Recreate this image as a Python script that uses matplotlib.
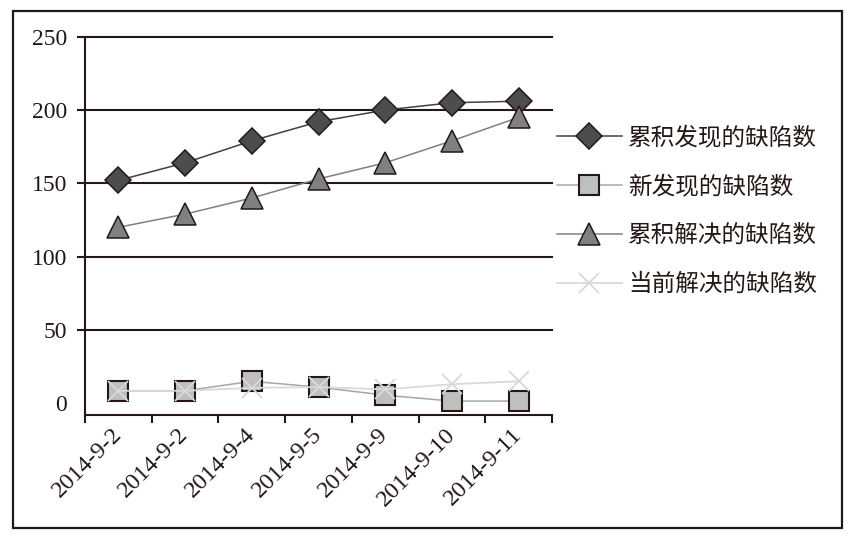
import matplotlib
matplotlib.use("Agg")
import matplotlib.pyplot as plt
import numpy as np
from matplotlib.patches import Rectangle

dates = ["2014-9-2", "2014-9-2", "2014-9-4", "2014-9-5", "2014-9-9", "2014-9-10", "2014-9-11"]
cum_found = [152, 164, 179, 192, 200, 205, 206]
new_found = [8.5, 8.5, 15, 11, 5.5, 1.5, 1.5]
cum_resolved = [120, 129, 140, 153, 164, 179, 195]
cur_resolved = [8.5, 8.5, 10.5, 11, 9.5, 13, 15]
names = ["累积发现的缺陷数", "新发现的缺陷数", "累积解决的缺陷数", "当前解决的缺陷数"]
yticks = [50, 100, 150, 200, 250]

ink = "#231815"
serif = ["Liberation Serif", "Noto Sans CJK SC"]
plt.rcParams["font.family"] = serif

W, H = 852, 537
fig = plt.figure(figsize=(W / 100, H / 100), dpi=100)
ax = fig.add_axes([85 / W, 1 - 415 / H, (552 - 85) / W, (415 - 36.7) / H])

x = np.arange(len(dates))
ax.plot(x, cum_found, color="#404040", lw=1.1, marker="D", ms=13.5,
        mfc="#4d4d4d", mec=ink, mew=1.1, label=names[0], zorder=3)
ax.plot(x, new_found, color="#a6a6a6", lw=1.1, marker="s", ms=14,
        mfc="#bfbfbf", mec=ink, mew=1.5, label=names[1], zorder=4)
ax.plot(x, cum_resolved, color="#808080", lw=1.1, marker="^", ms=16,
        mfc="#808080", mec=ink, mew=1.1, label=names[2], zorder=5)
ax.plot(x, cur_resolved, color="#d9d9d9", lw=1.3, marker="x", ms=15,
        mec="#d9d9d9", mew=1.3, label=names[3], zorder=6)

ax.set_xlim(-0.5, len(dates) - 0.5)
ax.set_ylim(-8, 250)

# y axis
ax.set_yticks(yticks)
ax.set_yticks([0], labels=["0"], minor=True)
ax.tick_params(axis="y", which="major", direction="out", length=6, width=1.5,
               color=ink, pad=7, labelsize=17, labelcolor=ink)
ax.tick_params(axis="y", which="minor", length=0, pad=13, labelsize=17, labelcolor=ink)
ax.grid(axis="y", which="major", color=ink, lw=1.5)
ax.set_axisbelow(True)
for gl in ax.get_ygridlines():
    gl.set_clip_on(False)

# x axis
ax.set_xticks(x, labels=dates)
ax.set_xticks(np.arange(-0.5, len(dates), 1.0), minor=True)
ax.tick_params(axis="x", which="major", length=0, pad=12, labelsize=17.5, labelcolor=ink)
ax.tick_params(axis="x", which="minor", direction="out", length=6, width=1.5, color=ink)
for lab in ax.get_xticklabels():
    lab.set_rotation(45)
    lab.set_ha("right")
    lab.set_va("center")
    lab.set_rotation_mode("anchor")

for s in ["top", "right"]:
    ax.spines[s].set_visible(False)
for s in ["left", "bottom"]:
    ax.spines[s].set_color(ink)
    ax.spines[s].set_linewidth(1.5)

leg = fig.legend(loc="upper left", bbox_to_anchor=(557 / W, 1 - 126 / H),
                 frameon=False, fontsize=17, handlelength=2.75, handletextpad=0.25,
                 labelspacing=1.12, borderpad=0, borderaxespad=0)
for t in leg.get_texts():
    t.set_color(ink)

fig.patches.append(Rectangle((13 / W, 1 - 528 / H), (842 - 13) / W, (528 - 11) / H,
                             transform=fig.transFigure, fill=False, edgecolor=ink, lw=1.6))

fig.savefig("out.png", dpi=100)
